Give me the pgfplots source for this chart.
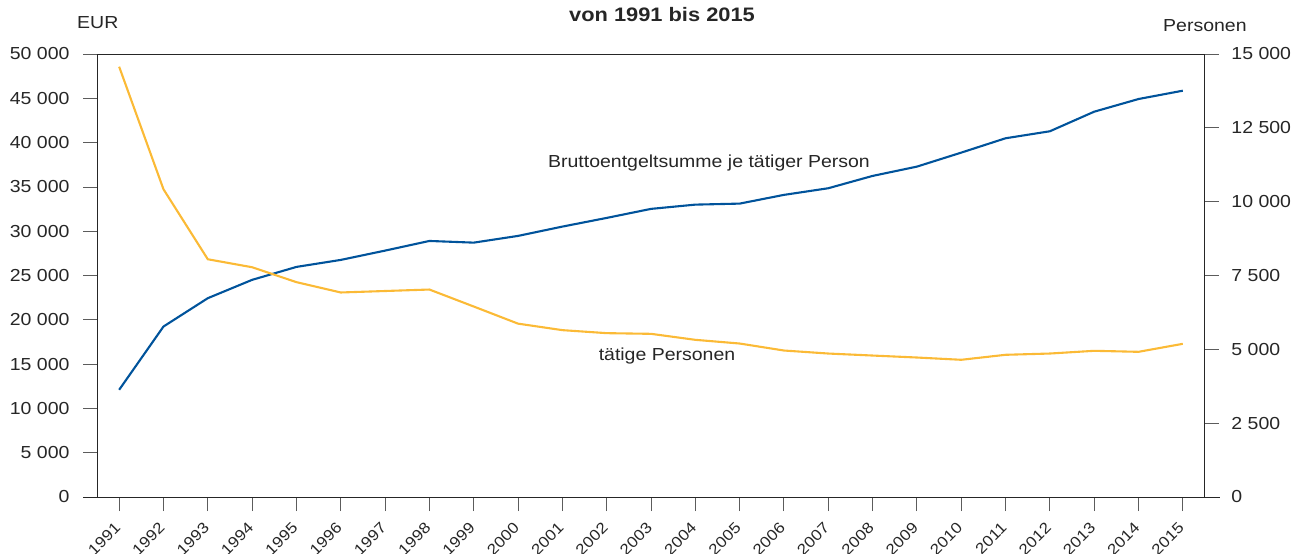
\documentclass[border=0pt]{standalone}
\usepackage{pgfplots}
\pgfplotsset{compat=1.18}
\usepackage{fontspec}
\setmainfont[FakeStretch=1.12]{Liberation Sans}
\definecolor{blueline}{HTML}{00539B}
\definecolor{yellowline}{HTML}{FBBA36}
\definecolor{txt}{HTML}{262626}
\begin{document}
\begin{tikzpicture}[x=1pt,y=1pt]
\path[use as bounding box] (0,0) rectangle (1301,-554);
\pgfplotsset{every axis/.append style={
  scale only axis, width=1108pt, height=443pt,
  at={(97pt,-497pt)}, anchor=south west,
  xmin=1990.5, xmax=2015.5,
  font=\fontsize{17.4}{20}\selectfont,
  /pgf/number format/assume math mode=true,
  /pgf/number format/1000 sep={\ },
  scaled y ticks=false,
  tick style={color=txt!75, line width=0.8pt},
  major tick length=14pt, tick align=outside,
  axis line style={color=txt, line width=1pt},
  ticklabel style={text=txt},
}}
\begin{axis}[
  ymin=0, ymax=50000,
  ytick={0,5000,...,50000},
  xtick={1991,...,2015},
  xtick pos=bottom, ytick pos=left,
  xticklabel style={font=\fontsize{15.3}{18}\selectfont, xshift=1pt, yshift=-12pt, rotate=45, anchor=east, /pgf/number format/1000 sep={}},
  yticklabel style={xshift=-10pt},
]
\addplot[blueline, line width=2.1pt] coordinates {
(1991,12100) (1992,19240) (1993,22440) (1994,24510) (1995,25970)
(1996,26760) (1997,27810) (1998,28900) (1999,28710) (2000,29470)
(2001,30520) (2002,31500) (2003,32520) (2004,33000) (2005,33115)
(2006,34100) (2007,34850) (2008,36240) (2009,37290) (2010,38870)
(2011,40490) (2012,41280) (2013,43490) (2014,44920) (2015,45860)
};
\end{axis}
\begin{axis}[
  ymin=0, ymax=15000,
  ytick={0,2500,...,15000},
  axis x line=none, axis y line*=right,
  ytick pos=right,
  yticklabel style={xshift=9pt},
]
\addplot[yellowline, line width=2.1pt] coordinates {
(1991,14570) (1992,10420) (1993,8050) (1994,7780) (1995,7275)
(1996,6925) (1997,6975) (1998,7025) (1999,6450) (2000,5870)
(2001,5650) (2002,5548) (2003,5525) (2004,5322) (2005,5197)
(2006,4960) (2007,4858) (2008,4790) (2009,4723) (2010,4646)
(2011,4815) (2012,4858) (2013,4950) (2014,4916) (2015,5187)
};
\end{axis}
\draw[txt, line width=1pt] (83,-497) -- (1220,-497);
\node[anchor=base, text=txt, font=\bfseries\fontsize{19.5}{22}\selectfont] at (662,-21) {von 1991 bis 2015};
\node[anchor=base west, inner sep=0pt, text=txt, font=\fontsize{17.4}{20}\selectfont] at (77,-28) {EUR};
\node[anchor=base west, inner sep=0pt, text=txt, font=\fontsize{17.4}{20}\selectfont] at (1163,-31) {Personen};
\node[anchor=base, inner sep=0pt, text=txt, font=\fontsize{17.4}{20}\selectfont] at (709,-167) {Bruttoentgeltsumme je tätiger Person};
\node[anchor=base, inner sep=0pt, text=txt, font=\fontsize{17.4}{20}\selectfont] at (667,-360) {tätige Personen};
\end{tikzpicture}
\end{document}
